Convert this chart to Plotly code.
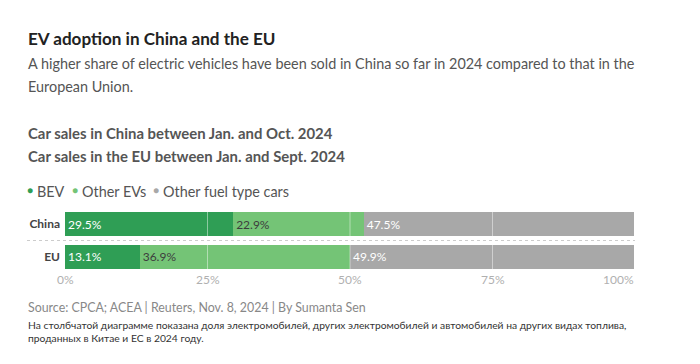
import plotly.graph_objects as go

categories = ["China", "EU"]
series_names = ["BEV", "Other EVs", "Other fuel type cars"]
bev = [29.5, 13.1]
other_ev = [22.9, 36.9]
other_fuel = [47.5, 49.9]
tick_vals = [0, 25, 50, 75, 100]
tick_text = ["0%", "25%", "50%", "75%", "100%"]
colors = ["#2f9e55", "#74c476", "#a8a8a8"]
text_colors = ["#ffffff", "#3d3d3d", "#ffffff"]

W, H = 700, 364
L, R = 65, 635
T, B = 207.5, 273.5

def px(xp):
    return (xp - L) / (R - L)

def py(yp):
    return (B - yp) / (B - T)

FONT = "Lato"
fig = go.Figure()
for name, vals, c, tc in zip(series_names, [bev, other_ev, other_fuel], colors, text_colors):
    fig.add_trace(go.Bar(
        y=categories, x=vals, orientation="h", name=name,
        marker=dict(color=c, line=dict(width=0)),
        text=[f"{v:.1f}%" for v in vals], textposition="inside",
        insidetextanchor="start", textangle=0,
        textfont=dict(color=tc, size=12, family=FONT),
        showlegend=False, hoverinfo="skip",
    ))

shapes = []
for v in tick_vals[1:-1]:
    shapes.append(dict(type="line", xref="x", yref="paper", x0=v, x1=v, y0=0, y1=1,
                       line=dict(color="rgba(255,255,255,0.45)", width=1), layer="above"))
shapes.append(dict(type="line", xref="paper", yref="y", x0=px(27), x1=1, y0=0.5, y1=0.5,
                   line=dict(color="#cccccc", width=1, dash="dot"), layer="above"))

ann = []
def text(x, y, s, size, color, bold=False, xanchor="left"):
    ann.append(dict(xref="paper", yref="paper", x=px(x), y=py(y), xanchor=xanchor, yanchor="middle",
                    text=(f"<b>{s}</b>" if bold else s), showarrow=False, align="left",
                    font=dict(size=size, color=color, family=FONT)))

text(26, 35, "EV adoption in China and the EU", 17.1, "#222222", bold=True)
text(26, 61, "A higher share of electric vehicles have been sold in China so far in 2024 compared to that in the", 14.4, "#555555")
text(26, 84, "European Union.", 14.4, "#555555")
text(26, 131, "Car sales in China between Jan. and Oct. 2024", 14.9, "#555555", bold=True)
text(26, 155, "Car sales in the EU between Jan. and Sept. 2024", 14.9, "#555555", bold=True)
legend_dot_x = [30, 75, 156]
for n, c, lx in zip(series_names, colors, legend_dot_x):
    text(lx, 189, "●", 10, c, xanchor="center")
    text(lx + 5, 191, n, 14.4, "#555555")
text(26, 309, "Source: CPCA; ACEA | Reuters, Nov. 8, 2024 | By Sumanta Sen", 12.4, "#888888")
text(26, 326, "На столбчатой диаграмме показана доля электромобилей, других электромобилей и автомобилей на других видах топлива,", 10.3, "#333333")
text(26, 340, "проданных в Китае и ЕС в 2024 году.", 10.3, "#333333")

for v, t in zip(tick_vals, tick_text):
    if v == 100:
        ann.append(dict(xref="paper", yref="paper", x=px(636), y=py(280), xanchor="right", yanchor="middle",
                        text=t, showarrow=False, font=dict(size=12, color="#b0b0b0", family=FONT)))
    else:
        ann.append(dict(xref="x", yref="paper", x=v, y=py(280), xanchor="center", yanchor="middle",
                        text=t, showarrow=False, font=dict(size=12, color="#b0b0b0", family=FONT)))

fig.update_layout(
    barmode="stack", bargap=0.27,
    width=W, height=H,
    margin=dict(l=L, r=W - R, t=T, b=H - B, pad=0),
    paper_bgcolor="white", plot_bgcolor="white",
    xaxis=dict(range=[0, 100], showgrid=False, zeroline=False, showticklabels=False, fixedrange=True),
    yaxis=dict(categoryorder="array", categoryarray=categories, autorange="reversed",
               showgrid=False, zeroline=False, ticks="", ticklabelstandoff=4, fixedrange=True,
               tickfont=dict(size=12, color="#444444", family=FONT),
               tickvals=categories, ticktext=[f"<b>{c}</b>" for c in categories]),
    shapes=shapes, annotations=ann, showlegend=False,
    uniformtext=dict(minsize=8, mode="show"),
)
fig.write_html("out.html", config={"displayModeBar": False},
               post_script="document.body.style.margin='0px';")
